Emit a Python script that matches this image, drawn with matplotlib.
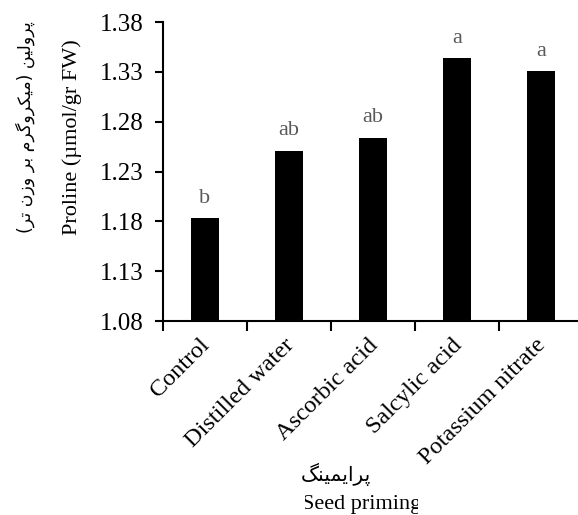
import matplotlib
matplotlib.use("Agg")
import numpy as np
from matplotlib import pyplot as plt
from matplotlib.transforms import Bbox

treatments = ["Control", "Distilled water", "Ascorbic acid", "Salcylic acid", "Potassium nitrate"]
proline = [1.183, 1.251, 1.264, 1.344, 1.331]
letters = ["b", "ab", "ab", "a", "a"]
yticks = [1.08, 1.13, 1.18, 1.23, 1.28, 1.33, 1.38]

ylabel_fa = "پرولین (میکروگرم بر وزن تر)"
ylabel_en = "Proline (\u00b5mol/gr FW)"
xlabel_fa = "پرایمینگ"
xlabel_en = "Seed priming"

# presentation forms: isolated, final, initial, medial (None = right joining only)
forms = {
    "\u0627": ("\uFE8D", "\uFE8E", None, None),
    "\u0628": ("\uFE8F", "\uFE90", "\uFE91", "\uFE92"),
    "\u067E": ("\uFB56", "\uFB57", "\uFB58", "\uFB59"),
    "\u062A": ("\uFE95", "\uFE96", "\uFE97", "\uFE98"),
    "\u0631": ("\uFEAD", "\uFEAE", None, None),
    "\u0632": ("\uFEAF", "\uFEB0", None, None),
    "\u06A9": ("\uFB8E", "\uFB8F", "\uFB90", "\uFB91"),
    "\u06AF": ("\uFB92", "\uFB93", "\uFB94", "\uFB95"),
    "\u0644": ("\uFEDD", "\uFEDE", "\uFEDF", "\uFEE0"),
    "\u0645": ("\uFEE1", "\uFEE2", "\uFEE3", "\uFEE4"),
    "\u0646": ("\uFEE5", "\uFEE6", "\uFEE7", "\uFEE8"),
    "\u0648": ("\uFEED", "\uFEEE", None, None),
    "\u06CC": ("\uFBFC", "\uFBFD", "\uFBFE", "\uFBFF"),
}
mirror = {"(": ")", ")": "("}


def shape(s):
    # crude persian shaping + reversing, matplotlib has no bidi
    out = []
    for i, c in enumerate(s):
        if c not in forms:
            out.append(mirror.get(c, c))
            continue
        prev = s[i - 1] if i > 0 else None
        nxt = s[i + 1] if i + 1 < len(s) else None
        join_prev = prev in forms and forms[prev][2] is not None
        join_next = nxt in forms and forms[c][2] is not None
        f = forms[c]
        if join_prev and join_next:
            g = f[3]
        elif join_prev:
            g = f[1]
        elif join_next:
            g = f[2]
        else:
            g = f[0]
        out.append(g)
    return "".join(reversed(out))


plt.rcParams["font.family"] = ["Liberation Serif", "DejaVu Sans"]

fig = plt.figure(figsize=(5.78, 5.15), dpi=100)
ax = fig.add_axes([163 / 578, 1 - 321 / 515, 420 / 578, 299 / 515])

x = np.arange(len(treatments))
ax.bar(x, proline, width=0.345, color="black")
for xi, v, l in zip(x, proline, letters):
    ax.annotate(l, (xi, v), xytext=(0, 11), textcoords="offset points",
                ha="center", va="baseline", fontsize=16, color="#595959")

ax.set_xlim(-0.5, len(treatments) - 0.5)
ax.set_ylim(1.08, 1.38)
ax.set_yticks(yticks)
ax.set_yticklabels(["%.2f" % t for t in yticks], fontsize=18)
ax.set_xticks(x)
ax.set_xticklabels(treatments, rotation=45, ha="right", va="center_baseline",
                   rotation_mode="anchor", fontsize=17.5)
ax.set_xticks(np.arange(len(treatments) + 1) - 0.5, minor=True)
ax.tick_params(axis="x", which="major", length=0, pad=14)
ax.tick_params(axis="x", which="minor", length=7, width=1.5)
ax.tick_params(axis="y", length=6, width=1.5, pad=8)

for side in ["top", "right"]:
    ax.spines[side].set_visible(False)
for side in ["left", "bottom"]:
    ax.spines[side].set_linewidth(1.5)

fig.text(25 / 578, 1 - 127 / 515, shape(ylabel_fa), rotation=90, ha="center", va="center",
         fontsize=12.5, family="DejaVu Sans")
fig.text(72 / 578, 1 - 137 / 515, ylabel_en, rotation=90, ha="center", va="center", fontsize=16)

fig.text(336 / 578, 1 - 474 / 515, shape(xlabel_fa), ha="center", va="center",
         fontsize=14.5, family="DejaVu Sans")
t = fig.text(362 / 578, 1 - 509 / 515, xlabel_en, ha="center", va="baseline", fontsize=16)
t.set_clip_box(Bbox.from_extents(305, 0, 418, 515))
t.set_clip_on(True)

plt.savefig("out.png", dpi=100)
